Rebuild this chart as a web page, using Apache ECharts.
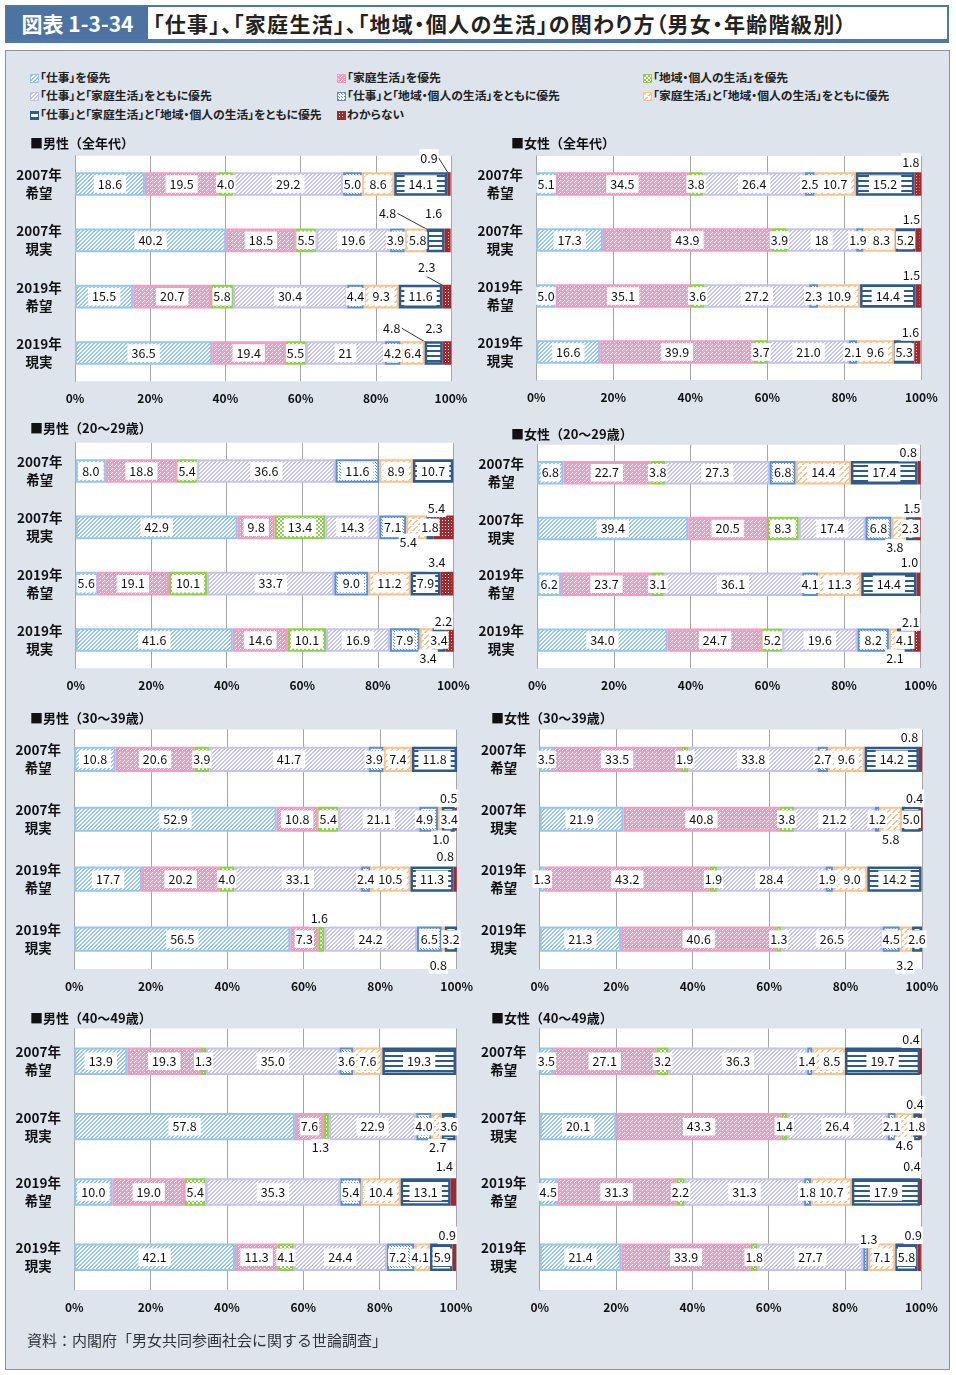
<!DOCTYPE html>
<html><head><meta charset="utf-8">
<script src="https://cdn.jsdelivr.net/npm/echarts@6/dist/echarts.min.js"></script>
<style>
body{margin:0;width:956px;height:1375px;background:#fff;font-family:'Noto Sans CJK JP',sans-serif;position:relative;overflow:hidden}
#panel{position:absolute;left:5px;top:50px;width:943px;height:1318px;background:#dde4ec;border:1px solid #8f9296}
#titlebar{position:absolute;left:5px;top:5px;width:940px;height:32px;border:2px solid #4f78a6;border-bottom-width:4px;background:#fff}
#tnum{position:absolute;left:0;top:0;width:141px;height:32px;background:#4d73a3;color:#fff;font-weight:bold;font-size:21px;line-height:32px;text-align:center}
#ttext{position:absolute;left:146px;top:0;height:32px;line-height:32px;font-size:21px;font-weight:bold;color:#222;font-feature-settings:'palt';letter-spacing:1.3px;white-space:nowrap}
#chart{position:absolute;left:0;top:0;width:956px;height:1375px}
.lg{position:absolute;font-size:11.8px;font-weight:bold;color:#222;height:14px;line-height:14px;white-space:nowrap;font-feature-settings:'palt'}
.lg i{display:inline-block;width:7px;height:7px;border:1px solid;vertical-align:-1px;margin-right:1px}
#src{position:absolute;left:27px;top:1329px;font-size:15px;line-height:22px;color:#333}
</style></head>
<body>
<div id="panel"></div>
<div id="titlebar"><div id="tnum">図表 1-3-34</div><div id="ttext">「仕事」、「家庭生活」、「地域・個人の生活」の関わり方（男女・年齢階級別）</div></div>
<div id="legend"></div>
<div id="chart"></div>
<div id="src">資料：内閣府「男女共同参画社会に関する世論調査」</div>
<script>
// ---------- data ----------
const categories = ['2007年\n希望','2007年\n現実','2019年\n希望','2019年\n現実'];
const seriesNames = ['「仕事」を優先','「家庭生活」を優先','「地域・個人の生活」を優先',
  '「仕事」と「家庭生活」をともに優先','「仕事」と「地域・個人の生活」をともに優先',
  '「家庭生活」と「地域・個人の生活」をともに優先','「仕事」と「家庭生活」と「地域・個人の生活」をともに優先','わからない'];
const panelTitles = ['■男性（全年代）','■女性（全年代）','■男性（20〜29歳）','■女性（20〜29歳）',
  '■男性（30〜39歳）','■女性（30〜39歳）','■男性（40〜49歳）','■女性（40〜49歳）'];
const xTickLabels = ['0%','20%','40%','60%','80%','100%'];

const maleAll = [
 ['18.6','19.5','4.0','29.2','5.0','8.6','14.1','0.9'],
 ['40.2','18.5','5.5','19.6','3.9','5.8','4.8','1.6'],
 ['15.5','20.7','5.8','30.4','4.4','9.3','11.6','2.3'],
 ['36.5','19.4','5.5','21','4.2','6.4','4.8','2.3']];
const femaleAll = [
 ['5.1','34.5','3.8','26.4','2.5','10.7','15.2','1.8'],
 ['17.3','43.9','3.9','18','1.9','8.3','5.2','1.5'],
 ['5.0','35.1','3.6','27.2','2.3','10.9','14.4','1.5'],
 ['16.6','39.9','3.7','21.0','2.1','9.6','5.3','1.6']];
const male20s = [
 ['8.0','18.8','5.4','36.6','11.6','8.9','10.7','0'],
 ['42.9','9.8','13.4','14.3','7.1','5.4','1.8','5.4'],
 ['5.6','19.1','10.1','33.7','9.0','11.2','7.9','3.4'],
 ['41.6','14.6','10.1','16.9','7.9','3.4','3.4','2.2']];
const female20s = [
 ['6.8','22.7','3.8','27.3','6.8','14.4','17.4','0.8'],
 ['39.4','20.5','8.3','17.4','6.8','3.8','2.3','1.5'],
 ['6.2','23.7','3.1','36.1','4.1','11.3','14.4','1.0'],
 ['34.0','24.7','5.2','19.6','8.2','2.1','4.1','2.1']];
const male30s = [
 ['10.8','20.6','3.9','41.7','3.9','7.4','11.8','0'],
 ['52.9','10.8','5.4','21.1','4.9','1.0','3.4','0.5'],
 ['17.7','20.2','4.0','33.1','2.4','10.5','11.3','0.8'],
 ['56.5','7.3','1.6','24.2','6.5','0.8','3.2','0']];
const female30s = [
 ['3.5','33.5','1.9','33.8','2.7','9.6','14.2','0.8'],
 ['21.9','40.8','3.8','21.2','1.2','5.8','5.0','0.4'],
 ['1.3','43.2','1.9','28.4','1.9','9.0','14.2','0'],
 ['21.3','40.6','1.3','26.5','4.5','3.2','2.6','0']];
const male40s = [
 ['13.9','19.3','1.3','35.0','3.6','7.6','19.3','0'],
 ['57.8','7.6','1.3','22.9','4.0','2.7','3.6','0'],
 ['10.0','19.0','5.4','35.3','5.4','10.4','13.1','1.4'],
 ['42.1','11.3','4.1','24.4','7.2','4.1','5.9','0.9']];
const female40s = [
 ['3.5','27.1','3.2','36.3','1.4','8.5','19.7','0.4'],
 ['20.1','43.3','1.4','26.4','2.1','4.6','1.8','0.4'],
 ['4.5','31.3','2.2','31.3','1.8','10.7','17.9','0.4'],
 ['21.4','33.9','1.8','27.7','1.3','7.1','5.8','0.9']];

const panels = [maleAll,femaleAll,male20s,female20s,male30s,female30s,male40s,female40s];

// ---------- layout / style ----------
const FONT = "'Noto Sans CJK JP', sans-serif";
const gridBoxes = [
 [75,155.8,376,225.4],[536.3,156,385,224],
 [75.7,442.8,377.6,225.4],[537.3,444.8,383.4,223.2],
 [74.3,729.4,382.4,239.6],[539.7,729.4,382.3,239.6],
 [74.3,1028.6,381.7,261.4],[539.7,1028.6,381.6,261.4]];
const titlePos = [[30,143],[511,143],[30,428],[511,434],[30,718],[491,718],[30,1018],[491,1018]];
// label offsets: key panel-row-seg : [dx, dy, leaderLine]
const labelOffsets = {
 '0-0-7':[-20,-26,1],'0-1-4':[-2,0],'0-1-5':[2,0],'0-1-6':[-48,-27,1],'0-1-7':[-14,-27,0],'0-2-7':[-20,-29,1],'0-3-6':[-42,-25,1],'0-3-7':[-13,-25,0],
 '1-0-7':[-7,-22],'1-1-4':[-2,0],'1-1-5':[2,0],'1-1-7':[-7,-21],'1-2-7':[-7,-21],'1-3-7':[-7,-20],
 '2-1-5':[-8,15],'2-1-7':[-7,-19],'2-2-7':[-10,-21],'2-3-5':[2,18],'2-3-7':[-6,-19],
 '3-0-7':[-11,-20],'3-1-5':[-4,19],'3-1-7':[-6,-20],'3-2-7':[-9,-22],'3-3-5':[2,18],'3-3-7':[-6,-18],
 '4-0-4':[-2,0],'4-1-4':[-4,0],'4-1-5':[1,20],'4-1-6':[1,0],'4-1-7':[-7,-21],'4-2-7':[-10,-23],'4-3-2':[-2,-21],'4-3-5':[-5,26],
 '5-0-7':[-11,-22],'5-1-5':[0,20],'5-1-7':[-7,-21],'5-2-4':[-2,0],'5-2-5':[2,0],'5-3-5':[-1,26],
 '6-1-2':[-6,21],'6-1-5':[1,21],'6-2-7':[-9,-26],'6-3-4':[-3,0],'6-3-5':[-2,0],'6-3-6':[1,0],'6-3-7':[-7,-22],
 '7-0-4':[-3,0],'7-0-5':[3,0],'7-0-7':[-10,-22],'7-1-5':[0,19],'7-1-7':[-6,-22],'7-2-7':[-9,-26],'7-3-4':[3,-18],'7-3-7':[-6,-22]
};
const colors = ['#96c6f0','#f59ac1','#8fcf4f','#c6c2f0','#5b8fd1','#f8c291','#2f5a8c','#9e2b2f'];

function mk(w,h,fn){const c=document.createElement('canvas');c.width=w;c.height=h;const g=c.getContext('2d');g.fillStyle='#fff';g.fillRect(0,0,w,h);fn(g);return c;}
function px(g,col,x,y){g.fillStyle=col;g.fillRect(x,y,1,1);}
const patterns = [
 mk(4,4,g=>{for(let x=0;x<4;x++)for(let y=0;y<4;y++)if((x+y)%4<2)px(g,colors[0],x,y);}),
 mk(4,4,g=>{for(let x=0;x<4;x++)for(let y=0;y<4;y++)if(!((x===0&&y===0)||(x===2&&y===2)||(x===3&&y===1)))px(g,colors[1],x,y);}),
 mk(4,4,g=>{for(let x=0;x<4;x++)for(let y=0;y<4;y++)if((Math.floor(x/2)+Math.floor(y/2))%2===0)px(g,colors[2],x,y);}),
 mk(4,4,g=>{for(let x=0;x<4;x++)for(let y=0;y<4;y++)if((x+y)%4<2)px(g,colors[3],x,y);}),
 mk(3,3,g=>{px(g,colors[4],0,0);px(g,colors[4],1,1);}),
 mk(6,6,g=>{for(let x=0;x<6;x++)for(let y=0;y<6;y++)if((x+y)%6<2&&y!==3)px(g,colors[5],x,y);}),
 mk(4,5,g=>{g.fillStyle=colors[6];g.fillRect(0,0,4,2);}),
 mk(3,3,g=>{g.fillStyle=colors[7];g.fillRect(0,0,3,3);px(g,'#fff',1,1);})
];

// ---------- legend (HTML) ----------
const legendPos = [[30,77],[337,77],[643,77],[30,95],[337,95],[643,95],[30,114],[337,114]];
const lg = document.getElementById('legend');
seriesNames.forEach((n,i)=>{
  const d=document.createElement('div');d.className='lg';
  d.style.left=legendPos[i][0]+'px';d.style.top=(legendPos[i][1]-7)+'px';
  const ic=document.createElement('i');ic.style.borderColor=colors[i];
  ic.style.backgroundImage='url('+patterns[i].toDataURL()+')';
  d.appendChild(ic);d.appendChild(document.createTextNode(n));lg.appendChild(d);
});

// ---------- chart ----------
const chart = echarts.init(document.getElementById('chart'), null, {renderer:'canvas'});
const grid=[],xAxis=[],yAxis=[],series=[];
panels.forEach((rows,p)=>{
  const b=gridBoxes[p];
  grid.push({left:b[0],top:b[1],width:b[2],height:b[3],show:true,backgroundColor:'#fff',borderWidth:0,containLabel:false,outerBoundsMode:'none'});
  xAxis.push({type:'value',gridIndex:p,min:0,max:100,interval:20,
    axisLabel:{formatter:v=>xTickLabels[v/20],fontSize:12,fontWeight:'bold',color:'#111',margin:11,fontFamily:FONT},
    splitLine:{show:true,lineStyle:{color:'#a6a6a6',width:1}},axisLine:{show:false},axisTick:{show:false}});
  yAxis.push({type:'category',gridIndex:p,data:categories,inverse:true,
    axisLabel:{align:'center',margin:36,fontSize:13.5,fontWeight:'bold',lineHeight:18,color:'#111',fontFamily:FONT},
    axisLine:{show:true,lineStyle:{color:'#a6a6a6'}},axisTick:{show:false},splitLine:{show:false}});
  for(let s=0;s<8;s++){
    series.push({
      type:'bar',name:seriesNames[s],xAxisIndex:p,yAxisIndex:p,stack:'st'+p,barWidth:'42%',
      itemStyle:{color:{image:patterns[s],repeat:'repeat'},borderColor:colors[s],borderWidth:s===6?2.5:2},
      label:{show:true,position:'inside',formatter:params=>rows[params.dataIndex][s],
        color:'#111',fontSize:12.5,fontFamily:FONT,backgroundColor:'#fff',padding:[3,1,2,1]},
      labelLine:{show:false,lineStyle:{color:'#333',width:1}},
      labelLayout:params=>{const o=labelOffsets[p+'-'+params.dataIndex+'-'+s];return o?{dx:o[0],dy:o[1]}:{};},
      emphasis:{disabled:true},
      data:rows.map((r,ri)=>{
        const v=Number(r[s]);
        if(!v) return {value:null,label:{show:false}};
        const it={value:v};
        const o=labelOffsets[p+'-'+ri+'-'+s];
        if(o&&o[2]) it.labelLine={show:true,lineStyle:{color:'#333',width:1}};
        if(v>=8) it.label={padding:[3,4,2,4]};
        return it;
      })
    });
  }
});
chart.setOption({
  animation:false,
  textStyle:{fontFamily:FONT},
  grid,xAxis,yAxis,series,
  graphic:panelTitles.map((t,i)=>({type:'text',x:titlePos[i][0],y:titlePos[i][1],
    style:{text:t,fontSize:13,fontWeight:'bold',fontFamily:FONT,fill:'#111',verticalAlign:'middle'}}))
});
</script>
</body></html>
